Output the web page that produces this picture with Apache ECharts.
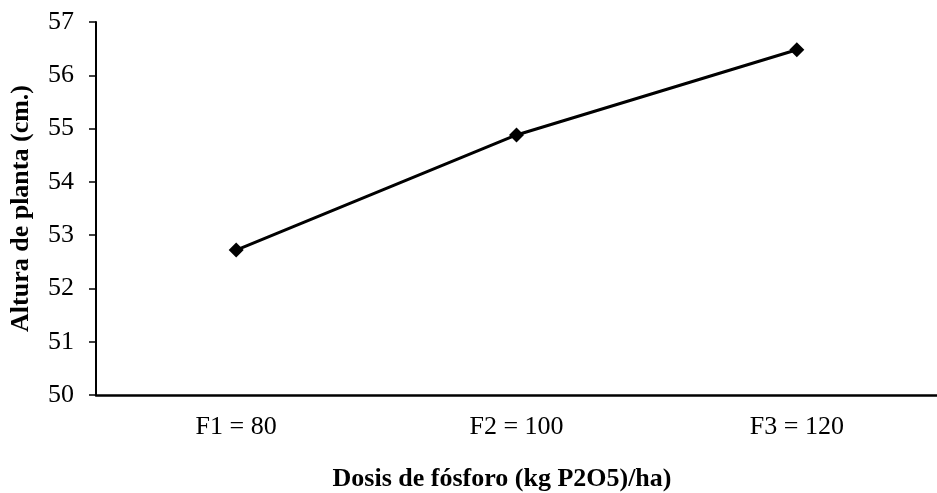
<!DOCTYPE html>
<html>
<head>
<meta charset="utf-8">
<script src="https://cdn.jsdelivr.net/npm/echarts@6/dist/echarts.min.js"></script>
<style>
  html, body { margin: 0; padding: 0; background: #fff; }
  #chart { width: 937px; height: 493px; }
</style>
</head>
<body>
<div id="chart"></div>
<script>
// Phosphorus dose levels and mean plant height
const categories = ['F1 = 80', 'F2 = 100', 'F3 = 120'];
const alturaPlanta = [52.72, 54.88, 56.48];
const yTicks = { min: 50, max: 57, interval: 1 };
const xTitle = 'Dosis de fósforo (kg P2O5)/ha)';
const yTitle = 'Altura de planta (cm.)';

const serif = '"Liberation Serif", "Times New Roman", serif';

const chart = echarts.init(document.getElementById('chart'), null, { renderer: 'canvas' });
chart.setOption({
  animation: false,
  backgroundColor: '#ffffff',
  grid: { left: 93, right: -15, top: 22, bottom: 98, containLabel: false },
  graphic: [{
    type: 'text',
    x: 502,
    y: 479,
    style: {
      text: xTitle,
      font: 'bold 26px ' + serif,
      fill: '#000',
      align: 'center',
      verticalAlign: 'middle'
    }
  }],
  xAxis: {
    type: 'category',
    data: categories,
    boundaryGap: true,
    axisLine: { lineStyle: { color: '#000', width: 2.5 } },
    axisTick: { show: false },
    axisLabel: { fontFamily: serif, fontSize: 26, color: '#000', margin: 19 },
    splitLine: { show: false }
  },
  yAxis: {
    type: 'value',
    min: yTicks.min,
    max: yTicks.max,
    interval: yTicks.interval,
    name: yTitle,
    nameLocation: 'middle',
    nameGap: 62,
    nameRotate: 90,
    nameTextStyle: { fontFamily: serif, fontSize: 26, fontWeight: 'bold', color: '#000' },
    axisLine: { show: true, lineStyle: { color: '#000', width: 2 } },
    axisTick: { show: true, inside: false, length: 7, lineStyle: { color: '#000', width: 1.5 } },
    axisLabel: { fontFamily: serif, fontSize: 26, color: '#000', margin: 22 },
    splitLine: { show: false }
  },
  series: [{
    type: 'line',
    data: alturaPlanta,
    symbol: 'diamond',
    symbolSize: 15,
    lineStyle: { color: '#000', width: 3 },
    itemStyle: { color: '#000' },
    z: 3
  }]
});
</script>
</body>
</html>
